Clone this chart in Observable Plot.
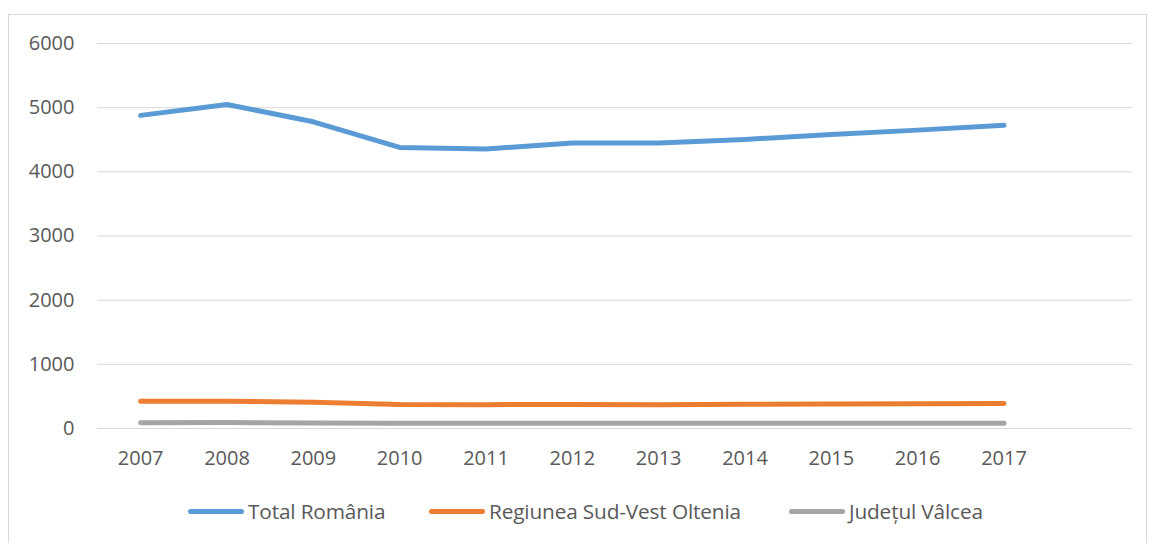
<!DOCTYPE html>
<html>
<head>
<meta charset="utf-8">
<script src="https://cdn.jsdelivr.net/npm/d3@7"></script>
<script src="https://cdn.jsdelivr.net/npm/@observablehq/plot@0.6"></script>
<style>
  html, body { margin: 0; padding: 0; background: #fff; }
  body { width: 1149px; height: 543px; overflow: hidden; position: relative; font-family: "Open Sans", sans-serif; }
  #frame { position: absolute; left: 8px; top: 14px; width: 1139px; height: 600px; border: 1px solid #d9d9d9; box-sizing: border-box; }
  #chart { position: absolute; left: 0; top: 0; }
  #legend { position: absolute; left: 0; top: 496px; width: 1149px; height: 30px; font-size: 20.8px; color: #595959; letter-spacing: -0.15px; }
  .item { position: absolute; top: 0; display: flex; align-items: center; gap: 4px; height: 30px; white-space: nowrap; }
  .sw { width: 56px; height: 5px; border-radius: 3px; }
</style>
</head>
<body>
<div id="frame"></div>
<div id="chart"></div>
<div id="legend"></div>
<script>
const years = [2007, 2008, 2009, 2010, 2011, 2012, 2013, 2014, 2015, 2016, 2017];
const totalRomania = [4880, 5050, 4780, 4380, 4355, 4450, 4450, 4505, 4580, 4650, 4725];
const sudVestOltenia = [426, 426, 410, 375, 372, 375, 372, 378, 383, 387, 390];
const valcea = [90, 92, 85, 80, 80, 80, 80, 80, 80, 80, 80];
const seriesNames = ["Total România", "Regiunea Sud-Vest Oltenia", "Județul Vâlcea"];
const seriesColors = ["#5B9BD5", "#ED7D31", "#A5A5A5"];
const yTicks = [0, 1000, 2000, 3000, 4000, 5000, 6000];

const seriesValues = [totalRomania, sudVestOltenia, valcea];
const data = seriesNames.flatMap((name, i) =>
  years.map((year, j) => ({series: name, year, value: seriesValues[i][j]}))
);

const chart = Plot.plot({
  width: 1149,
  height: 480,
  marginTop: 43,
  marginBottom: 52,
  marginLeft: 97,
  marginRight: 16,
  style: {fontFamily: "Open Sans, sans-serif", fontSize: "20px", color: "#595959", background: "transparent"},
  x: {domain: [2006.5, 2018.5], label: null},
  y: {domain: [0, 6000], label: null},
  color: {domain: seriesNames, range: seriesColors},
  marks: [
    Plot.ruleY(yTicks, {stroke: "#d9d9d9", strokeWidth: 1}),
    Plot.axisX({ticks: years, tickFormat: d => String(d), tickSize: 0, tickPadding: 22, fill: "#595959", label: null}),
    Plot.axisY({ticks: yTicks, tickFormat: d3.format("d"), tickSize: 0, tickPadding: 23, fill: "#595959", label: null}),
    Plot.line(data, {x: "year", y: "value", z: "series", stroke: "series", strokeWidth: 5, strokeLinecap: "round", strokeLinejoin: "round"})
  ]
});
document.getElementById("chart").appendChild(chart);

const legendLefts = [188, 429, 789];
const legend = document.getElementById("legend");
seriesNames.forEach((name, i) => {
  const item = document.createElement("div");
  item.className = "item";
  item.style.left = legendLefts[i] + "px";
  const sw = document.createElement("div");
  sw.className = "sw";
  sw.style.background = seriesColors[i];
  const label = document.createElement("span");
  label.textContent = name;
  item.appendChild(sw);
  item.appendChild(label);
  legend.appendChild(item);
});
</script>
</body>
</html>
